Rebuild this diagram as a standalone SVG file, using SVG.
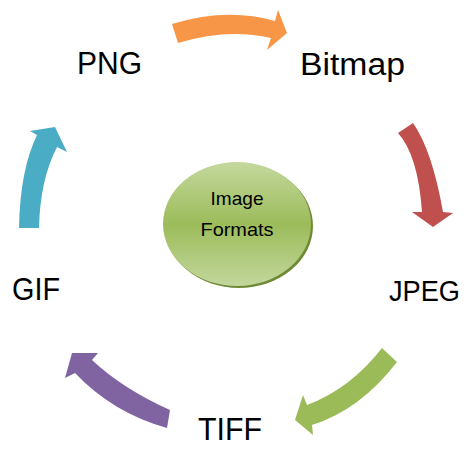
<svg xmlns="http://www.w3.org/2000/svg" width="469" height="453" viewBox="0 0 469 453">
<defs>
<linearGradient id="gc" x1="0" y1="0" x2="0" y2="1">
<stop offset="0" stop-color="#c4d89e"/>
<stop offset="0.5" stop-color="#9cbc5a"/>
<stop offset="1" stop-color="#c2d79c"/>
</linearGradient>
</defs>
<style>
.lbl{font-family:"Liberation Sans",Arial,sans-serif;font-size:31px;fill:#000}
.ctr{font-family:"Liberation Sans",Arial,sans-serif;font-size:19px;fill:#000}
</style>
<rect width="469" height="453" fill="#fff"/>
<g id="connectors">
<path d="M172,24 Q227,7 275,21 L278,10 L287,33 L267,50 L271,38 Q227,28 178,43 Z" fill="#f79646"/>
<path d="M398,133 L413,123 Q432,150 443,212 L453,213 L433,227 L412,212 L422,212 Q418,155 398,133 Z" fill="#c0504d"/>
<path d="M382,348 L397,362 Q360,410 312,425 L313,435 L295,420 L303,395 L307,405 Q350,389 382,348 Z" fill="#9bbb59"/>
<path d="M170,410 L167,428 Q113,413 75,373 L65,378 L72,353 L98,353 L92,360 Q123,389 170,410 Z" fill="#8064a2"/>
<path d="M19,228 Q20,170 37,135 L30,131 L55,127 L67,152 L57,147 Q40,180 39,228 Z" fill="#4bacc6"/>
</g>
<g id="center">
<ellipse cx="239" cy="226" rx="74" ry="62" fill="#6f8a36"/>
<ellipse cx="237" cy="224" rx="74" ry="62" fill="url(#gc)"/>
<text class="ctr" x="237" y="205" text-anchor="middle" textLength="53" lengthAdjust="spacingAndGlyphs">Image</text>
<text class="ctr" x="237" y="236" text-anchor="middle" textLength="73" lengthAdjust="spacingAndGlyphs">Formats</text>
</g>
<g id="png"><text class="lbl" x="77" y="74" textLength="65" lengthAdjust="spacingAndGlyphs">PNG</text></g>
<g id="bitmap"><text class="lbl" x="300" y="75" textLength="105" lengthAdjust="spacingAndGlyphs">Bitmap</text></g>
<g id="jpeg"><text class="lbl" x="389" y="301" style="font-size:29px" textLength="71" lengthAdjust="spacingAndGlyphs">JPEG</text></g>
<g id="tiff"><text class="lbl" x="198" y="440" textLength="64" lengthAdjust="spacingAndGlyphs">TIFF</text></g>
<g id="gif"><text class="lbl" x="12" y="300" textLength="48" lengthAdjust="spacingAndGlyphs">GIF</text></g>
</svg>
